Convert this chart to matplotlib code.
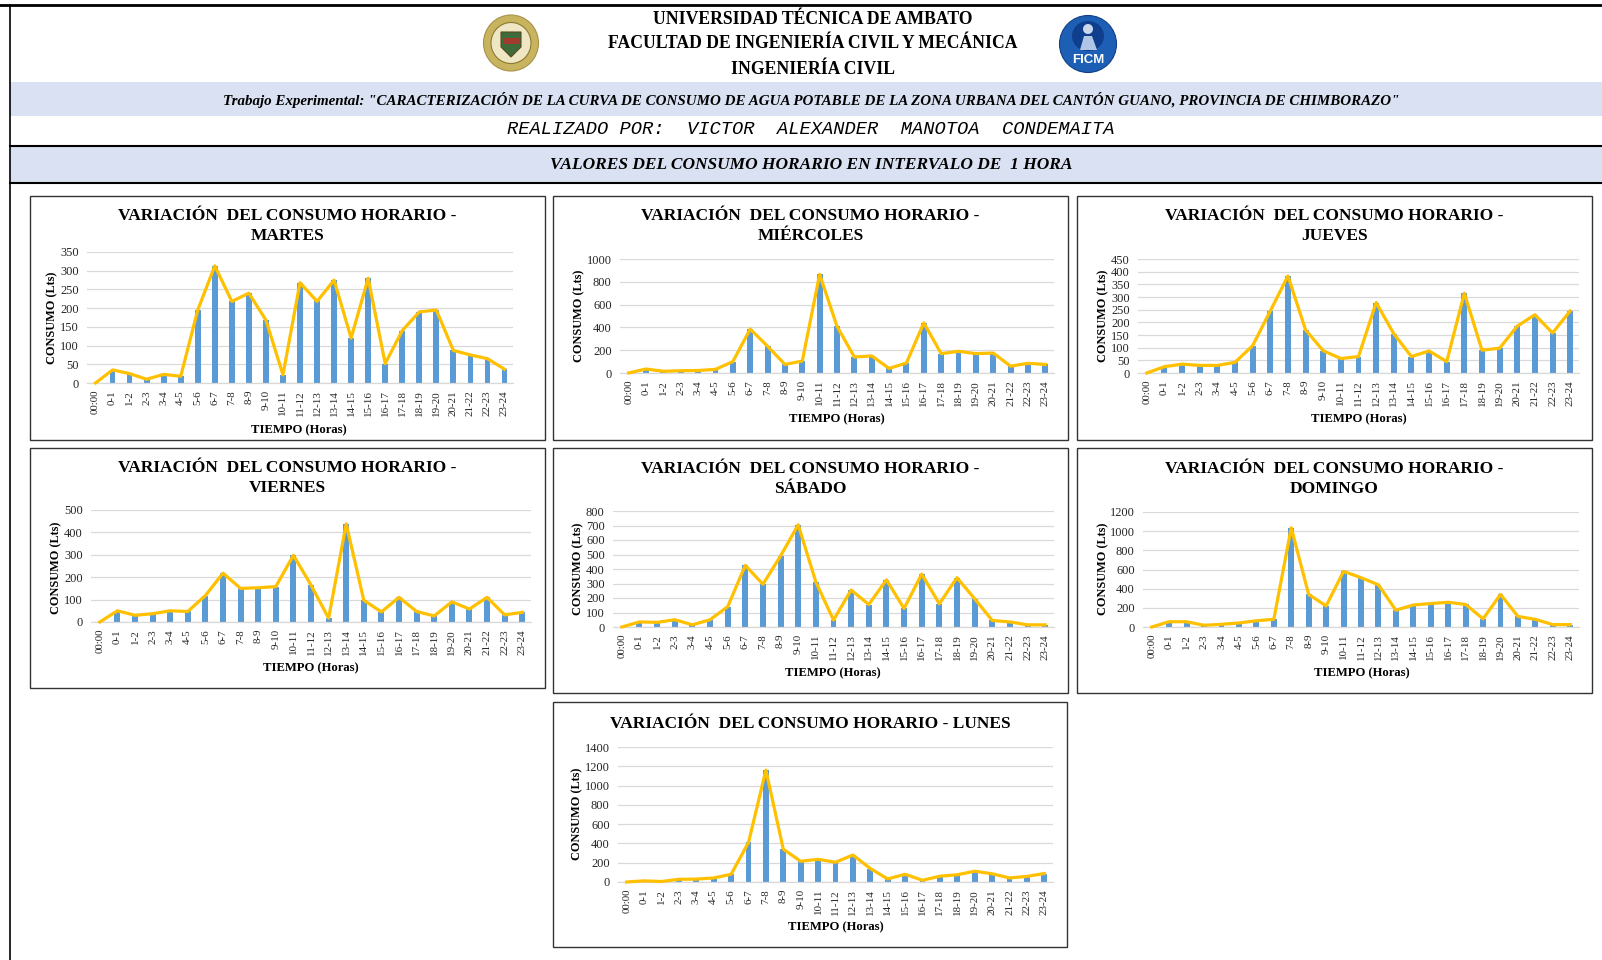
#!/usr/bin/env python3

import matplotlib
matplotlib.use("Agg")
import matplotlib.pyplot as plt
from matplotlib.patches import Ellipse, Polygon, Rectangle

plt.rcParams['font.family'] = ['Liberation Serif', 'DejaVu Serif']

W, H = 1602, 960

# chart values
horas = ["00:00", "0-1", "1-2", "2-3", "3-4", "4-5", "5-6", "6-7", "7-8", "8-9", "9-10",
         "10-11", "11-12", "12-13", "13-14", "14-15", "15-16", "16-17", "17-18", "18-19",
         "19-20", "20-21", "21-22", "22-23", "23-24"]

martes = [0, 35, 25, 10, 23, 18, 195, 313, 218, 240, 168, 22, 268, 218, 275, 120, 280, 52, 140, 190, 195, 87, 75, 65, 37]
miercoles = [0, 35, 15, 20, 22, 32, 100, 385, 235, 75, 105, 865, 410, 140, 150, 40, 88, 440, 170, 190, 170, 175, 60, 85, 75]
jueves = [0, 25, 35, 30, 30, 42, 108, 245, 383, 170, 88, 57, 65, 278, 155, 65, 87, 45, 315, 90, 98, 185, 230, 158, 245]
viernes = [0, 50, 30, 37, 50, 47, 118, 218, 150, 153, 158, 298, 165, 17, 438, 97, 45, 110, 47, 27, 90, 58, 110, 32, 43]
sabado = [0, 35, 32, 50, 15, 50, 140, 425, 295, 490, 705, 310, 48, 255, 155, 325, 128, 365, 160, 340, 195, 45, 35, 15, 15]
domingo = [0, 55, 55, 18, 28, 42, 65, 80, 1035, 340, 220, 580, 515, 440, 175, 230, 245, 258, 235, 85, 340, 110, 80, 25, 25]
lunes = [0, 12, 5, 28, 30, 42, 80, 410, 1160, 340, 215, 235, 205, 280, 140, 32, 80, 18, 60, 75, 112, 85, 42, 58, 88]

dias = ["MARTES", "MIÉRCOLES", "JUEVES", "VIERNES", "SÁBADO", "DOMINGO", "LUNES"]
y_maximos = [350, 1000, 450, 500, 800, 1200, 1400]
y_pasos = [50, 200, 50, 100, 100, 200, 200]

# pixel layout of each panel
series = [martes, miercoles, jueves, viernes, sabado, domingo, lunes]
marcos = [(30, 196, 545, 440), (553, 196, 1068, 440), (1077, 196, 1592, 440),
          (30, 448, 545, 688), (553, 448, 1068, 693), (1077, 448, 1592, 693),
          (553, 702, 1067, 947)]
plots = [(87, 252, 513, 383), (620, 259, 1054, 373), (1138, 259, 1579, 373),
         (91, 510, 531, 622), (613, 511, 1054, 627), (1143, 512, 1579, 627),
         (618, 747, 1053, 882)]
titulo_y = [(216, 236), (216, 236), (216, 236), (468, 488), (469, 489), (469, 489), (724, None)]
xlabel_pos = [(299, 430), (837, 419), (1359, 419), (311, 668), (833, 673), (1362, 673), (836, 927)]
ylabel_pos = [(52, 318), (579, 316), (1103, 316), (56, 568), (578, 569), (1103, 569), (577, 814)]


fig = plt.figure(figsize=(W / 100, H / 100), dpi=100, facecolor="white")

# page layer in pixel coordinates
bg = fig.add_axes([0, 0, 1, 1])
bg.set_xlim(0, W)
bg.set_ylim(H, 0)
bg.axis("off")

bg.add_patch(Rectangle((10, 82), W, 34, color="#D9E1F2", lw=0))
bg.add_patch(Rectangle((10, 146), W, 37, color="#D9E1F2", lw=0))
bg.plot([0, W], [5, 5], color="black", lw=2.0)
bg.plot([10, W], [146, 146], color="black", lw=1.5)
bg.plot([10, W], [183, 183], color="black", lw=1.5)
bg.plot([9.5, 9.5], [5, H], color="black", lw=1.2)

bg.text(813, 19, "UNIVERSIDAD TÉCNICA DE AMBATO", ha="center", va="center", fontsize=12.7, fontweight="bold")
bg.text(813, 43, "FACULTAD DE INGENIERÍA CIVIL Y MECÁNICA", ha="center", va="center", fontsize=12.7, fontweight="bold")
bg.text(813, 69, "INGENIERÍA CIVIL", ha="center", va="center", fontsize=12.7, fontweight="bold")
bg.text(811, 100, 'Trabajo Experimental: "CARACTERIZACIÓN DE LA CURVA DE CONSUMO DE AGUA POTABLE DE LA ZONA URBANA DEL CANTÓN GUANO, PROVINCIA DE CHIMBORAZO"',
        ha="center", va="center", fontsize=10.8, fontweight="bold", fontstyle="italic")
bg.text(811, 130, "REALIZADO POR:  VICTOR  ALEXANDER  MANOTOA  CONDEMAITA", ha="center", va="center",
        fontsize=13.5, fontstyle="italic", family=["Liberation Mono"])
bg.text(811, 165, "VALORES DEL CONSUMO HORARIO EN INTERVALO DE  1 HORA", ha="center", va="center",
        fontsize=12.55, fontweight="bold", fontstyle="italic")

# university seal
bg.add_patch(Ellipse((511, 43), 55, 56, fc="#C8B35E", ec="#A8924A", lw=0.8))
bg.add_patch(Ellipse((511, 43), 40, 41, fc="#EFE7C4", ec="#8C7A30", lw=0.8))
bg.add_patch(Polygon([(501, 32), (521, 32), (521, 47), (511, 57), (501, 47)], fc="#3E6B3A", ec="#5A4A20", lw=0.8))
bg.add_patch(Rectangle((503, 38), 16, 6, fc="#A33A2E", lw=0))

# faculty logo
bg.add_patch(Ellipse((1088, 44), 57, 57, fc="#1D5FB4", ec="#123F86", lw=0.8))
bg.add_patch(Ellipse((1088, 36), 32, 30, fc="#0F3F8C", lw=0))
bg.add_patch(Ellipse((1088, 29), 10, 10, fc="#C9D8EE", lw=0))
bg.add_patch(Polygon([(1080, 50), (1084, 36), (1092, 36), (1097, 50)], fc="#AFC6E6", lw=0))
bg.text(1088, 60, "FICM", ha="center", va="center", color="white", fontsize=9.5, fontweight="bold",
        family=["Liberation Sans"])


def to_fig(x0, y0, x1, y1):
    return [x0 / W, 1 - y1 / H, (x1 - x0) / W, (y1 - y0) / H]


for i, valores in enumerate(series):
    fx0, fy0, fx1, fy1 = marcos[i]
    bg.add_patch(Rectangle((fx0, fy0), fx1 - fx0, fy1 - fy0, fc="white", ec="#333333", lw=1.0))

    t1, t2 = titulo_y[i]
    cx = (fx0 + fx1) / 2
    if t2 is None:
        bg.text(cx, t1, "VARIACIÓN  DEL CONSUMO HORARIO - " + dias[i], ha="center", va="center",
                fontsize=12.55, fontweight="bold")
    else:
        bg.text(cx, t1, "VARIACIÓN  DEL CONSUMO HORARIO -", ha="center", va="center", fontsize=12.55, fontweight="bold")
        bg.text(cx, t2, dias[i], ha="center", va="center", fontsize=12.55, fontweight="bold")

    bg.text(xlabel_pos[i][0], xlabel_pos[i][1], "TIEMPO (Horas)", ha="center", va="center", fontsize=9.1, fontweight="bold")
    bg.text(ylabel_pos[i][0], ylabel_pos[i][1], "CONSUMO (Lts)", ha="center", va="center", rotation=90,
            fontsize=8.8, fontweight="bold")

    ax = fig.add_axes(to_fig(*plots[i]))
    ax.patch.set_alpha(0)
    x = list(range(len(horas)))
    ax.bar(x, valores, width=0.34, color="#5B9BD5", zorder=2)
    ax.plot(x, valores, color="#FFC000", lw=2.3, zorder=3, solid_joinstyle="round", clip_on=False)

    ax.set_xlim(-0.5, len(horas) - 0.5)
    ax.set_ylim(0, y_maximos[i])
    ax.set_yticks(range(0, y_maximos[i] + 1, y_pasos[i]))
    ax.set_xticks(x)
    ax.set_xticklabels(horas, rotation=90)
    ax.tick_params(axis="x", length=0, pad=5, labelsize=7.9, labelcolor="#262626")
    ax.tick_params(axis="y", length=0, pad=6, labelsize=8.9, labelcolor="#262626")
    ax.grid(axis="y", color="#D9D9D9", lw=0.9, zorder=0)
    ax.set_axisbelow(True)
    for side in ["top", "right", "left"]:
        ax.spines[side].set_visible(False)
    ax.spines["bottom"].set_color("#D9D9D9")
    ax.spines["bottom"].set_linewidth(0.9)

plt.savefig("out.png", dpi=100)
